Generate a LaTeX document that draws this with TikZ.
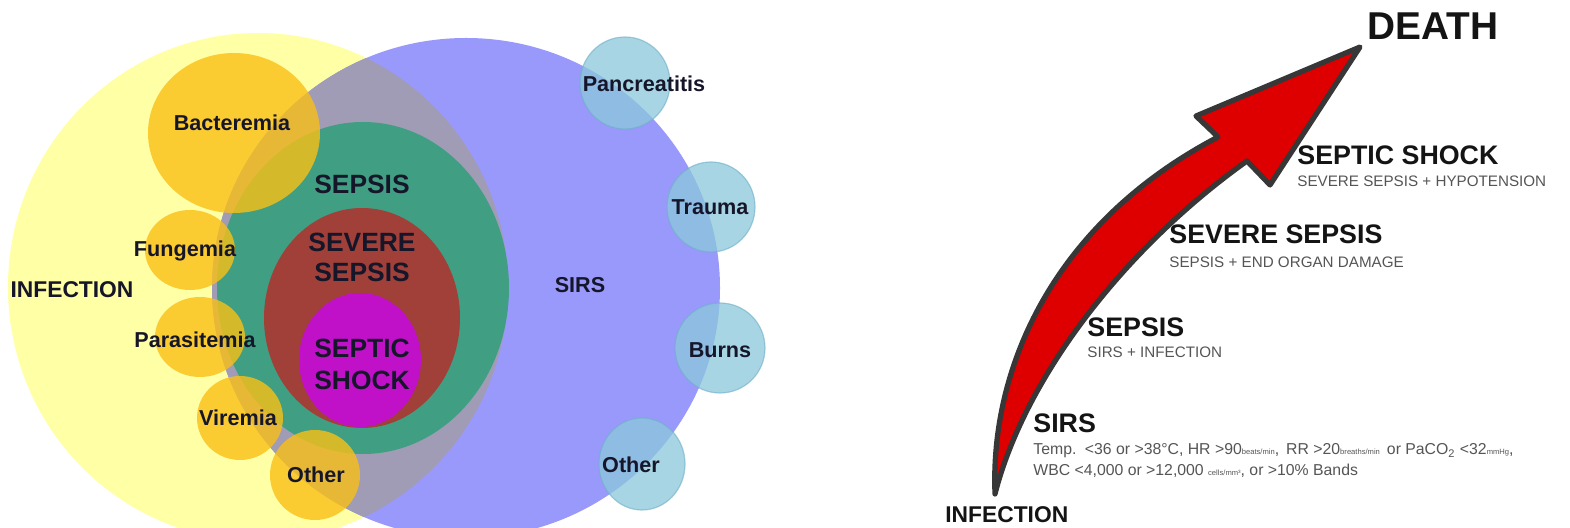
\documentclass[tikz,border=0pt]{standalone}
\usepackage{fontspec}
\setmainfont{Liberation Sans}
\usetikzlibrary{positioning}

\definecolor{infyellow}{RGB}{255,255,165}
\definecolor{sirspurple}{RGB}{153,153,252}
\definecolor{bothgray}{RGB}{160,156,182}
\definecolor{sepsisgreen}{RGB}{64,158,130}
\definecolor{severebrown}{RGB}{160,64,56}
\definecolor{shockmagenta}{RGB}{192,16,200}
\definecolor{bactorange}{RGB}{249,192,22}
\definecolor{causeblue}{RGB}{139,200,219}
\definecolor{causeedge}{RGB}{110,175,200}
\definecolor{labeltxt}{RGB}{22,22,42}
\definecolor{subgray}{RGB}{85,85,85}
\definecolor{arrowred}{RGB}{222,0,0}
\definecolor{arrowedge}{RGB}{55,55,55}

\newcommand\tinyunit[1]{{\fontsize{3.8}{4}\selectfont#1}}

\tikzset{
  lbl/.style={font=\bfseries\fontsize{10.8}{12}\selectfont, text=labeltxt,
    inner sep=0pt, align=center},
  biglbl/.style={lbl, font=\bfseries\fontsize{13.2}{15}\selectfont},
  head/.style={font=\bfseries\fontsize{13.4}{15}\selectfont, text=black!92,
    inner sep=0pt, anchor=base west},
  sub/.style={font=\fontsize{7.6}{9}\selectfont, text=subgray,
    inner sep=0pt, anchor=base west},
  crit/.style={sub, font=\fontsize{7.9}{9}\selectfont},
  bubble/.style={fill=bactorange, fill opacity=0.8},
  cause/.style={fill=causeblue, fill opacity=0.75, draw=causeedge,
    draw opacity=0.6, line width=0.6pt}
}

\begin{document}
\begin{tikzpicture}[x=0.5pt, y=-0.5pt]

  \useasboundingbox (0,0) rectangle (1570,528);
  \fill[white] (0,0) rectangle (1570,528);

  % infection and sirs
  \fill[infyellow] (258,287) ellipse [x radius=250, y radius=254];
  \fill[sirspurple] (466,288) ellipse [x radius=254, y radius=250];
  \begin{scope}
    \clip (258,287) ellipse [x radius=250, y radius=254];
    \fill[bothgray] (466,288) ellipse [x radius=254, y radius=250];
  \end{scope}

  % nested sepsis
  \fill[sepsisgreen] (363,288) ellipse [x radius=146, y radius=166];
  \fill[severebrown] (362,318) ellipse [x radius=98, y radius=110];
  \fill[shockmagenta] (360,360) ellipse [x radius=61, y radius=67];

  % infections
  \fill[bubble] (234,133) ellipse [x radius=86, y radius=80];
  \fill[bubble] (190,250) ellipse [x radius=45, y radius=40];
  \fill[bubble] (200,337) ellipse [x radius=45, y radius=40];
  \fill[bubble] (240,418) ellipse [x radius=43, y radius=42];
  \fill[bubble] (315,475) ellipse [x radius=45, y radius=45];

  % other causes of sirs
  \filldraw[cause] (625,83) ellipse [x radius=45, y radius=46];
  \filldraw[cause] (711,207) ellipse [x radius=44, y radius=45];
  \filldraw[cause] (720,348) ellipse [x radius=45, y radius=45];
  \filldraw[cause] (642,464) ellipse [x radius=43, y radius=46];

  \node[lbl] (bact) at (232,123) {Bacteremia};
  \node[lbl] (fung) at (185,251) {Fungemia};
  \node[lbl] (para) at (195,340) {Parasitemia};
  \node[lbl] (vir) at (238,418) {Viremia};
  \node[lbl] (othInf) at (316,475) {Other};
  \node[lbl, font=\bfseries\fontsize{11.4}{12}\selectfont] (infect) at (72,290) {INFECTION};
  \node[lbl] (sirs) at (580,285) {SIRS};
  \node[lbl] (pancr) at (644,84) {Pancreatitis};
  \node[lbl] (trauma) at (710,207) {Trauma};
  \node[lbl] (burns) at (720,350) {Burns};
  \node[lbl] (othSirs) at (631,465) {Other};
  \node[biglbl] (sepsis) at (362,184) {SEPSIS};
  \node[biglbl] (severe) at (362,257) {SEVERE\\SEPSIS};
  \node[biglbl, font=\bfseries\fontsize{13.2}{16}\selectfont] (shock) at (362,364) {SEPTIC\\SHOCK};

  % progression arrow
  \coordinate (tail) at (995,494);
  \coordinate (tip) at (1360,47);
  \filldraw[fill=arrowred, draw=arrowedge, line width=2.6pt, line join=round]
    (tail) .. controls (990,372) and (1050,225) .. (1218,137)
    -- (1196,116) -- (tip) -- (1270,185) -- (1247,161)
    .. controls (1122,250) and (1024,380) .. (tail) -- cycle;

  \node[head, font=\bfseries\fontsize{19.4}{20}\selectfont] (death) at (1367,40) {DEATH};
  \node[head] (shockHd) at (1297,165) {SEPTIC SHOCK};
  \node[sub] (shockSub) at (1297,187) {SEVERE SEPSIS + HYPOTENSION};
  \node[head] (severeHd) at (1169,244) {SEVERE SEPSIS};
  \node[sub] (severeSub) at (1169,268) {SEPSIS + END ORGAN DAMAGE};
  \node[head] (sepsisHd) at (1087,337) {SEPSIS};
  \node[sub] (sepsisSub) at (1087,358) {SIRS + INFECTION};
  \node[head] (sirsHd) at (1033,433) {SIRS};
  \node[crit] (sirsTemp) at (1033,455) {Temp. \,<36 or >38°C, HR >90\tinyunit{beats/min}, \,RR >20\tinyunit{breaths/min} \,or PaCO\textsubscript{2} <32\tinyunit{mmHg},};
  \node[crit] (sirsWbc) at (1033,476) {WBC <4,000 or >12,000 \tinyunit{cells/mm³}, or >10\% Bands};
  \node[head, font=\bfseries\fontsize{11.4}{12}\selectfont] (infHd) at (945,523) {INFECTION};

\end{tikzpicture}
\end{document}
